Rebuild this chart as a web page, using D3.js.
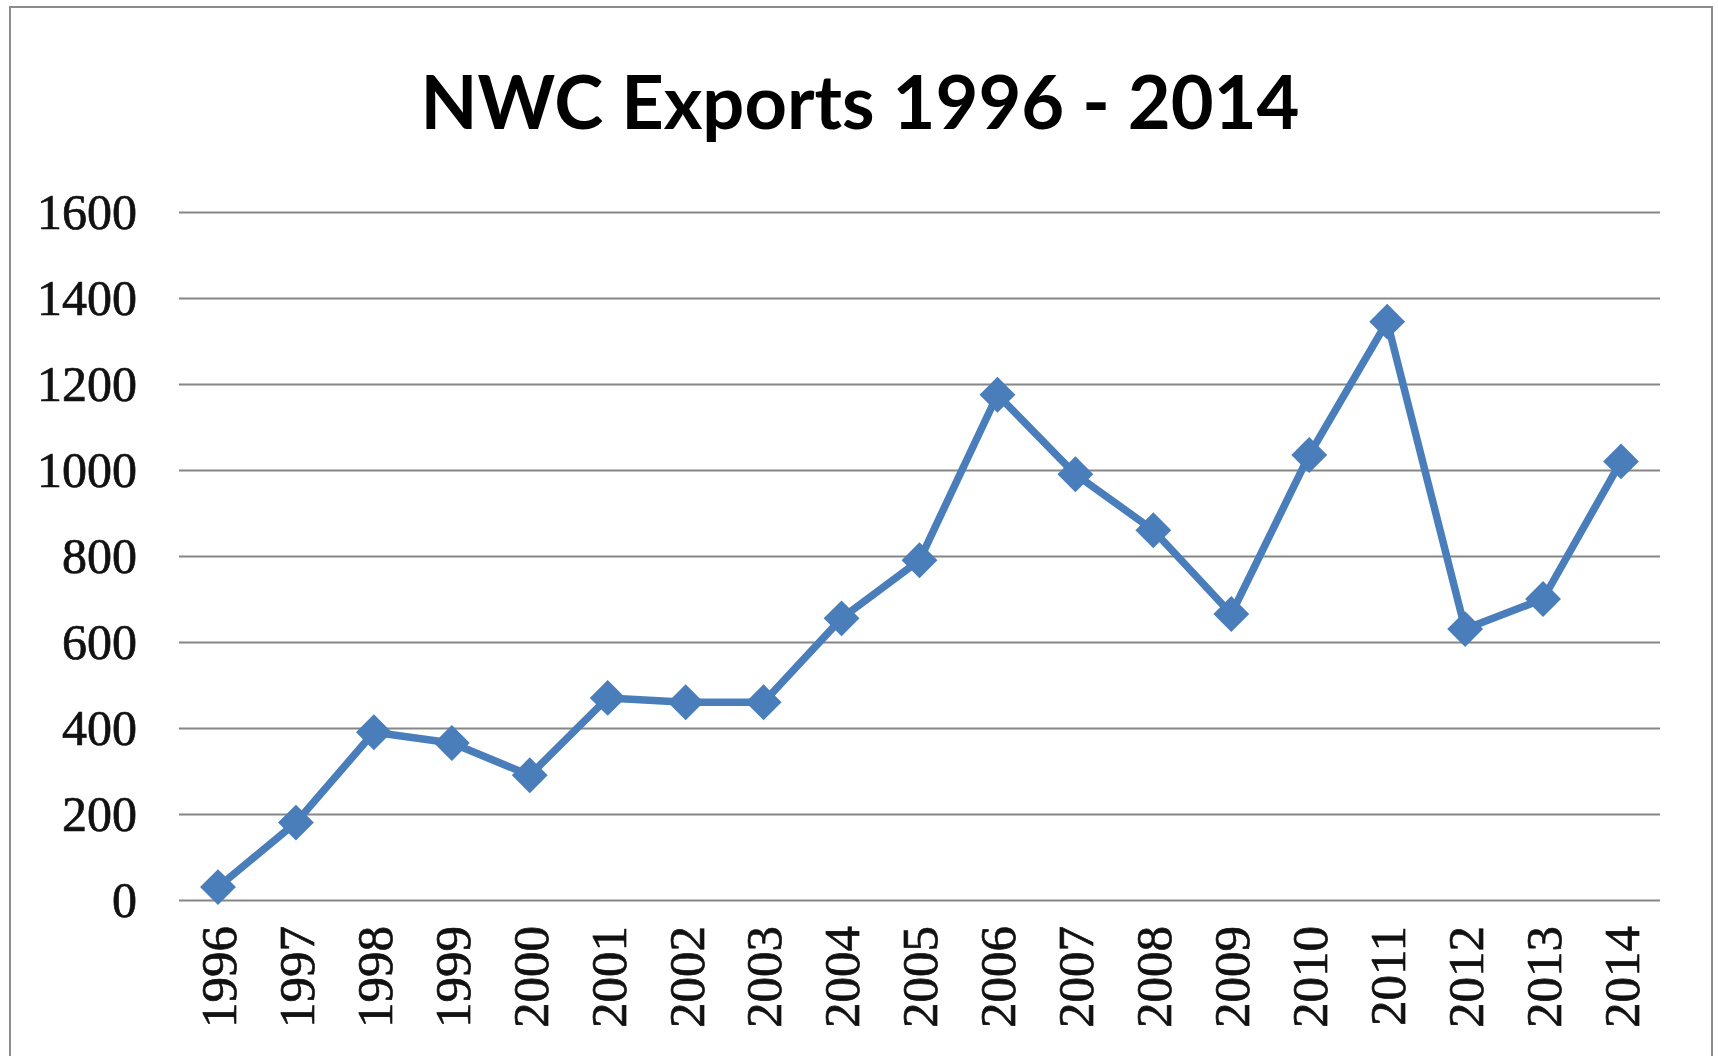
<!DOCTYPE html>
<html>
<head>
<meta charset="utf-8">
<script src="https://cdn.jsdelivr.net/npm/d3@7"></script>
<style>
  body { margin: 0; background: #fff; }
  .y-axis text, .x-axis text {
    font-family: "Liberation Serif", serif; fill: #111;
    stroke: #111; stroke-width: 0.7px;
  }
</style>
</head>
<body>
<div id="chart"></div>
<script>
var years = ["1996","1997","1998","1999","2000","2001","2002","2003","2004","2005",
             "2006","2007","2008","2009","2010","2011","2012","2013","2014"];
var exports = [30, 180, 390, 365, 290, 470, 460, 460, 655, 790,
               1175, 990, 860, 665, 1035, 1345, 630, 700, 1020];
var yTicks = [0, 200, 400, 600, 800, 1000, 1200, 1400, 1600];

var W = 1718, H = 1056;
var margin = {top: 212, bottom: 156, left: 179, right: 58},
    width = W - margin.left - margin.right,
    height = H - margin.top - margin.bottom;

var svg = d3.select('#chart')
  .append("svg")
    .attr("width", W)
    .attr("height", H);

// chart frame
svg.append("rect")
  .attr("x", 10).attr("y", 7)
  .attr("width", 1702).attr("height", 1080)
  .attr("fill", "none")
  .attr("stroke", "#8c8c8c")
  .attr("stroke-width", 2);

svg.append("text")
  .attr("x", 860).attr("y", 129)
  .attr("text-anchor", "middle")
  .attr("font-family", "Lato, sans-serif")
  .attr("font-weight", "bold")
  .attr("font-size", 74)
  .text("NWC Exports 1996 - 2014");

var x = d3.scaleBand()
  .domain(years)
  .range([0, width])
  .padding(0);

var y = d3.scaleLinear()
  .domain([0, 1600])
  .range([height, 0]);

var g = svg.append("g")
  .attr("transform", "translate(" + margin.left + "," + margin.top + ")");

var yAxis = d3.axisLeft(y)
  .tickValues(yTicks)
  .tickFormat(d3.format("d"))
  .tickSize(-width)
  .tickPadding(42);

g.append("g")
  .attr("class", "y-axis")
  .call(yAxis)
  .call(a => a.select(".domain").remove())
  .call(a => a.selectAll("line").attr("stroke", "#868686").attr("stroke-width", 2.2))
  .call(a => a.selectAll("text").attr("font-size", 50));

var xAxis = d3.axisBottom(x).tickSize(0).tickPadding(0);

g.append("g")
  .attr("class", "x-axis")
  .attr("transform", "translate(0," + height + ")")
  .call(xAxis)
  .call(a => a.select(".domain").remove())
  .call(a => a.selectAll("text")
    .attr("font-size", 51)
    .attr("transform", "rotate(-90)")
    .attr("text-anchor", "end")
    .attr("x", -26)
    .attr("y", 0)
    .attr("dy", "0.35em"));

var line = d3.line()
  .x(function(d, i) { return x(years[i]) + x.bandwidth() / 2; })
  .y(function(d) { return y(d); });

g.append("path")
  .datum(exports)
  .attr("fill", "none")
  .attr("stroke", "#4a7ebb")
  .attr("stroke-width", 7.5)
  .attr("stroke-linejoin", "round")
  .attr("d", line);

g.selectAll("path.marker")
  .data(exports)
  .enter().append("path")
    .attr("class", "marker")
    .attr("d", d3.symbol().type(d3.symbolDiamond2).size(820))
    .attr("transform", function(d, i) {
      return "translate(" + (x(years[i]) + x.bandwidth() / 2) + "," + y(d) + ")";
    })
    .attr("fill", "#4a7ebb");
</script>
</body>
</html>
